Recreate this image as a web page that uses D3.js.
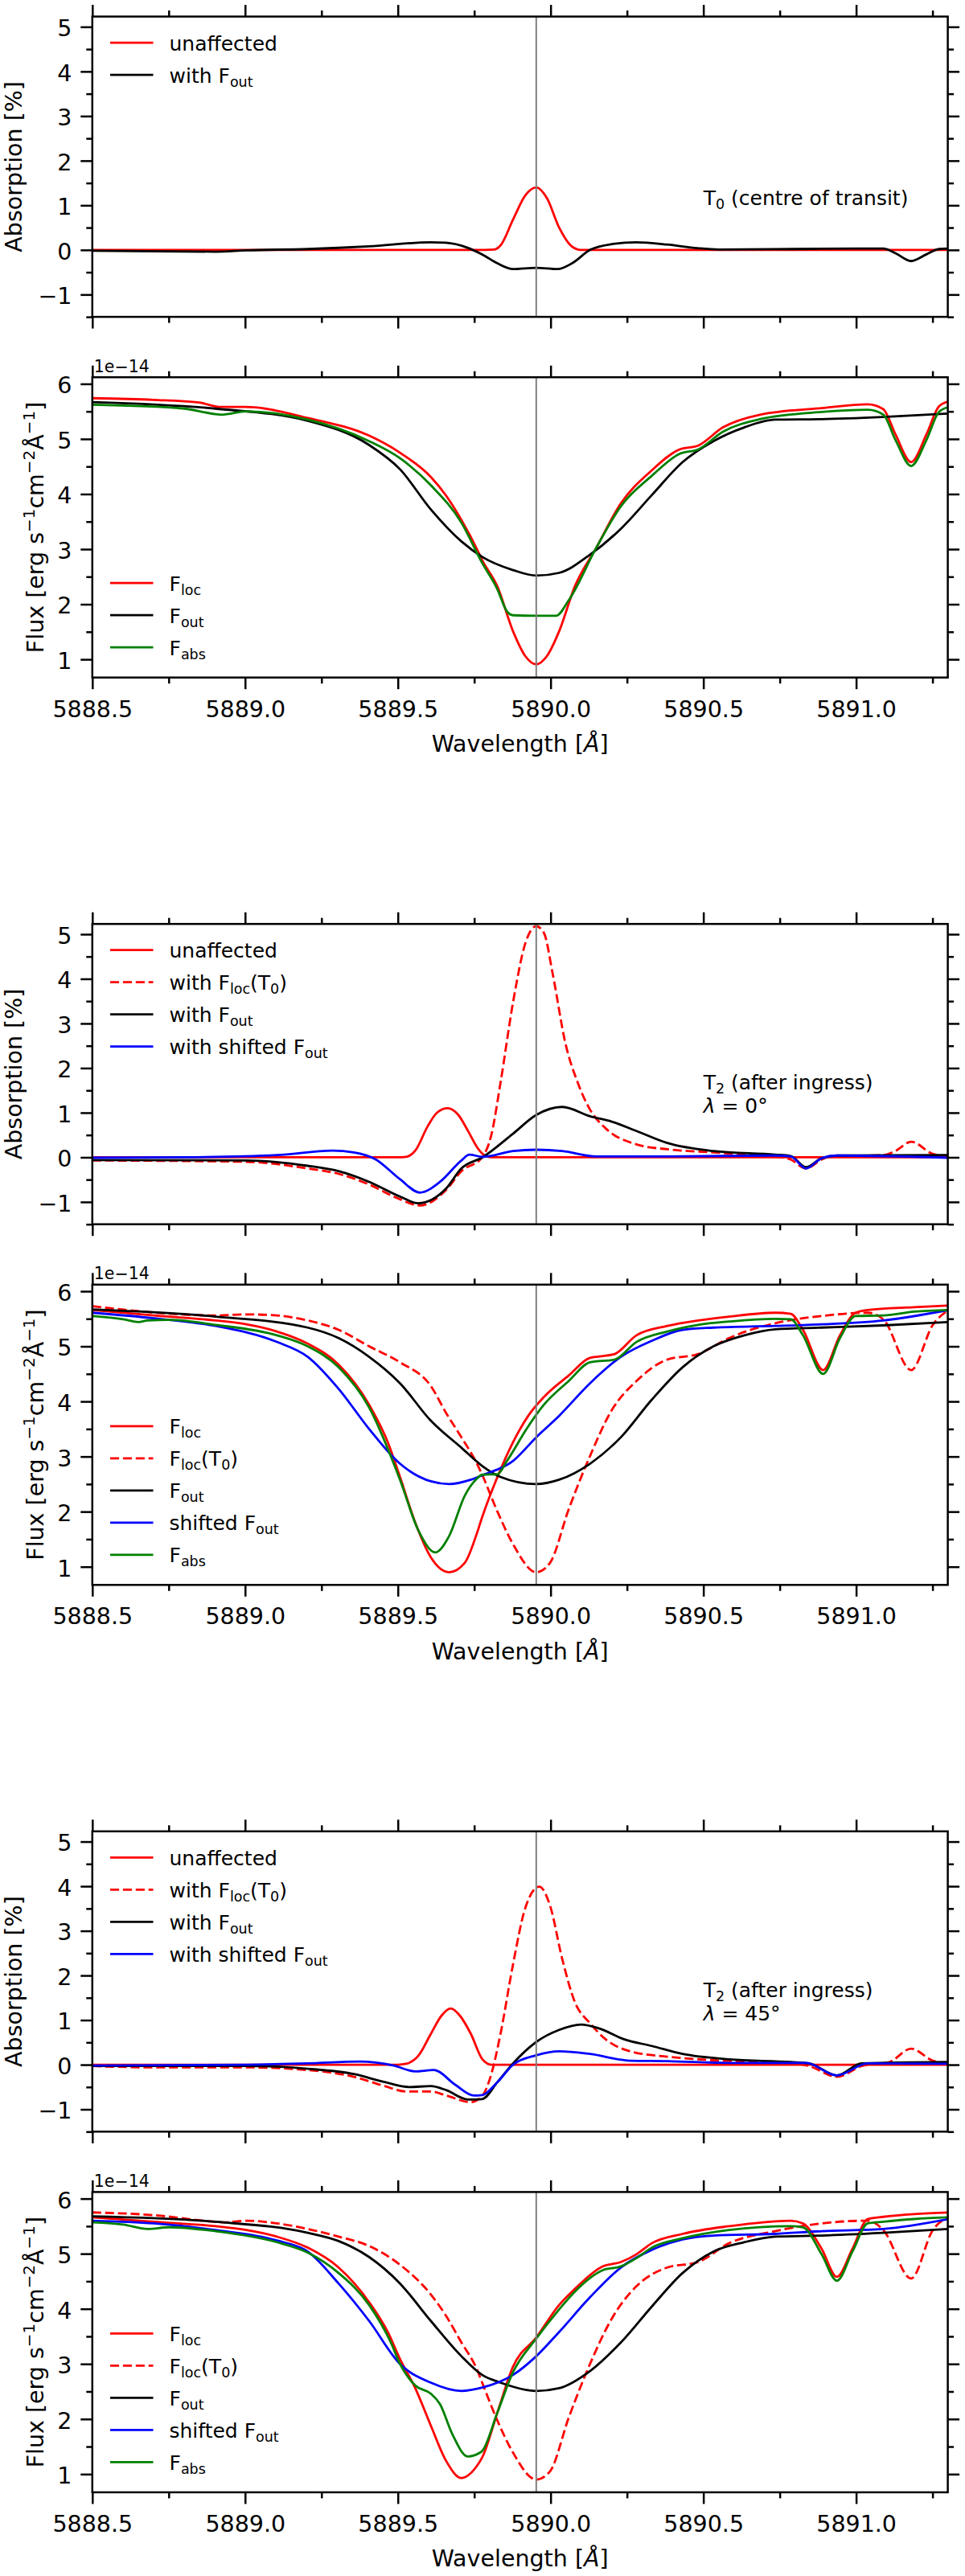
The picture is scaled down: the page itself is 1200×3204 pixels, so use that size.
<!DOCTYPE html>
<html lang="en">
<head>
  <meta charset="utf-8" />
  <title>Na D2 absorption at T0 and T2</title>
  <style>
    body {
      margin: 0;
      background: #ffffff;
    }
    svg {
      display: block;
      font-family: 'DejaVu Sans', sans-serif;
    }
    text {
      white-space: pre;
    }
    .frame {
      fill: none;
      stroke: #000;
      stroke-width: 2.5px;
    }
    .curve {
      fill: none;
      stroke-width: 2.8px;
      stroke-linejoin: round;
    }
    .marker-line {
      stroke: #808080;
      stroke-width: 2px;
    }
  </style>
</head>
<body>
<svg id="chart" width="1200" height="3204"></svg>

<script src="https://d3js.org/d3.v7.min.js"></script>
<script>
// -----------------------------------------------------
// 1) Data: [wavelength (A), value]
// -----------------------------------------------------
const NA_D2 = 5889.953;

const waveMajor = [5888.5, 5889.0, 5889.5, 5890.0, 5890.5, 5891.0];
const waveMinor = [5888.75, 5889.25, 5889.75, 5890.25, 5890.75, 5891.25];
const absMajor  = [-1, 0, 1, 2, 3, 4, 5];
const absMinor  = [-1.5, -0.5, 0.5, 1.5, 2.5, 3.5, 4.5];
const fluxMajor = [1, 2, 3, 4, 5, 6];
const fluxMinor = [1.5, 2.5, 3.5, 4.5, 5.5];

// --- T0, absorption ---
const absT0Unaffected = [[5888.5,0],[5889.75,0],[5889.816,0.01],[5889.836,0.1],[5889.877,0.68],[5889.917,1.22],
  [5889.953,1.40],[5889.988,1.16],[5890.028,0.5],[5890.069,0.08],[5890.099,0],[5891.3,0]];
const absT0Fout = [[5888.5,-0.02],[5888.903,-0.04],[5889.004,-0.01],[5889.205,0.02],[5889.406,0.08],[5889.607,0.17],
  [5889.657,0.16],[5889.728,0.05],[5889.776,-0.1],[5889.826,-0.3],[5889.877,-0.43],[5889.953,-0.40],[5890.023,-0.43],
  [5890.07,-0.3],[5890.129,0],[5890.2,0.13],[5890.281,0.17],[5890.382,0.12],[5890.48,0.04],[5890.55,0.01],
  [5890.786,0.02],[5891.0,0.03],[5891.089,0.03],[5891.13,-0.08],[5891.18,-0.25],[5891.23,-0.1],[5891.271,0.02],[5891.303,0.03]];

// --- T0, flux (1e-14) ---
const fluxT0Loc = [[5888.5,5.74],[5888.7,5.71],[5888.85,5.66],[5888.92,5.58],[5889.0,5.58],[5889.205,5.38],[5889.406,5.06],
  [5889.507,4.75],[5889.608,4.31],[5889.658,3.97],[5889.708,3.53],[5889.759,3.0],[5889.776,2.8],[5889.826,2.32],
  [5889.877,1.51],[5889.917,1.06],[5889.953,0.91],[5889.988,1.06],[5890.028,1.51],[5890.079,2.32],[5890.149,3.02],
  [5890.23,3.83],[5890.331,4.43],[5890.422,4.81],[5890.483,4.88],[5890.564,5.21],[5890.685,5.44],[5890.887,5.56],
  [5891.038,5.63],[5891.089,5.54],[5891.129,5.08],[5891.18,4.58],[5891.23,5.08],[5891.271,5.59],[5891.303,5.68]];
const fluxT0Out = [[5888.5,5.67],[5888.903,5.55],[5889.205,5.33],[5889.406,4.89],[5889.507,4.45],[5889.608,3.72],
  [5889.708,3.14],[5889.776,2.86],[5889.877,2.62],[5889.953,2.52],[5890.028,2.57],[5890.129,2.90],[5890.23,3.37],
  [5890.331,3.98],[5890.432,4.58],[5890.533,4.96],[5890.634,5.21],[5890.735,5.35],[5890.887,5.36],[5891.089,5.40],[5891.303,5.46]];
const fluxT0Abs = [[5888.5,5.62],[5888.802,5.55],[5888.903,5.45],[5888.923,5.44],[5889.004,5.5],[5889.205,5.35],
  [5889.406,4.96],[5889.507,4.65],[5889.608,4.16],[5889.708,3.48],[5889.776,2.75],[5889.826,2.27],[5889.857,1.87],
  [5889.877,1.80],[5889.953,1.79],[5890.018,1.79],[5890.059,2.07],[5890.149,3.02],[5890.23,3.78],[5890.331,4.33],
  [5890.422,4.73],[5890.483,4.81],[5890.564,5.13],[5890.685,5.36],[5890.887,5.49],[5891.038,5.53],[5891.089,5.44],
  [5891.129,4.98],[5891.18,4.51],[5891.23,4.98],[5891.271,5.49],[5891.303,5.58]];

// --- T2, lambda = 0 deg, absorption ---
const absL0Unaffected = [[5888.5,0],[5889.5,0],[5889.527,0.01],[5889.557,0.15],[5889.598,0.7],[5889.628,1.0],
  [5889.663,1.10],[5889.698,0.95],[5889.729,0.6],[5889.759,0.23],[5889.777,0.08],[5889.806,0],[5891.3,0]];
const absL0FlocT0 = [[5888.5,-0.07],[5889.004,-0.1],[5889.205,-0.25],[5889.306,-0.37],[5889.406,-0.61],[5889.507,-0.94],
  [5889.572,-1.08],[5889.658,-0.73],[5889.708,-0.31],[5889.776,0.0],[5889.806,0.5],[5889.836,1.67],[5889.877,3.47],
  [5889.917,4.79],[5889.953,5.18],[5889.978,5.03],[5890.008,4.07],[5890.048,2.57],[5890.089,1.67],[5890.129,1.07],
  [5890.18,0.65],[5890.281,0.29],[5890.382,0.18],[5890.533,0.11],[5890.634,0.06],[5890.735,0.02],[5890.786,-0.05],
  [5890.836,-0.25],[5890.887,-0.05],[5890.917,0.02],[5891.089,0.05],[5891.13,0.15],[5891.18,0.35],[5891.25,0.08],[5891.303,0.02]];
const absL0Fout = [[5888.5,-0.06],[5889.004,-0.07],[5889.205,-0.19],[5889.306,-0.31],[5889.406,-0.55],[5889.507,-0.88],
  [5889.567,-1.03],[5889.658,-0.70],[5889.708,-0.25],[5889.777,0],[5889.877,0.53],[5889.953,0.95],[5890.038,1.13],
  [5890.129,0.92],[5890.2,0.80],[5890.281,0.59],[5890.382,0.32],[5890.533,0.14],[5890.735,0.06],[5890.786,0.03],
  [5890.836,-0.22],[5890.887,-0.02],[5890.937,0.04],[5891.303,0.05]];
const absL0Shifted = [[5888.5,-0.01],[5888.8,0],[5889.104,0.05],[5889.286,0.15],[5889.356,0.11],[5889.426,-0.04],
  [5889.507,-0.49],[5889.572,-0.79],[5889.638,-0.55],[5889.708,-0.07],[5889.734,0.06],[5889.777,0.01],[5889.877,0.14],
  [5889.953,0.17],[5890.038,0.14],[5890.149,0.02],[5890.382,0.02],[5890.735,0.04],[5890.786,0.02],[5890.836,-0.25],
  [5890.887,-0.02],[5890.937,0.04],[5891.303,-0.01]];

// --- T2, lambda = 0 deg, flux ---
const fluxL0Loc = [[5888.5,5.66],[5888.701,5.56],[5888.903,5.47],[5889.004,5.40],[5889.104,5.27],[5889.205,5.05],
  [5889.306,4.67],[5889.406,3.94],[5889.467,3.26],[5889.507,2.63],[5889.557,1.80],[5889.608,1.17],[5889.668,0.90],
  [5889.719,1.07],[5889.759,1.61],[5889.776,1.9],[5889.826,2.63],[5889.877,3.26],[5889.927,3.74],[5889.978,4.08],
  [5890.059,4.47],[5890.129,4.79],[5890.18,4.83],[5890.21,4.86],[5890.281,5.2],[5890.382,5.37],[5890.483,5.47],
  [5890.584,5.54],[5890.735,5.61],[5890.786,5.59],[5890.826,5.30],[5890.892,4.57],[5890.947,5.2],[5890.998,5.61],
  [5891.038,5.66],[5891.19,5.71],[5891.303,5.74]];
const fluxL0LocT0 = [[5888.5,5.73],[5888.903,5.56],[5889.004,5.58],[5889.104,5.56],[5889.205,5.47],[5889.306,5.3],
  [5889.406,5.0],[5889.507,4.71],[5889.608,4.28],[5889.658,3.79],[5889.708,3.35],[5889.759,2.87],[5889.776,2.67],
  [5889.826,2.0],[5889.877,1.41],[5889.953,0.90],[5889.998,1.07],[5890.059,2.04],[5890.129,3.01],[5890.2,3.84],
  [5890.281,4.37],[5890.382,4.76],[5890.483,4.86],[5890.584,5.15],[5890.735,5.42],[5890.887,5.55],[5891.038,5.61],
  [5891.089,5.49],[5891.18,4.57],[5891.251,5.39],[5891.303,5.66]];
const fluxL0Out = [[5888.5,5.67],[5888.903,5.54],[5889.205,5.34],[5889.306,5.15],[5889.406,4.81],[5889.507,4.33],
  [5889.608,3.65],[5889.708,3.16],[5889.776,2.83],[5889.836,2.63],[5889.953,2.50],[5890.028,2.58],[5890.129,2.87],
  [5890.23,3.35],[5890.331,4.03],[5890.432,4.62],[5890.533,5.0],[5890.634,5.2],[5890.735,5.31],[5890.887,5.34],
  [5891.089,5.38],[5891.303,5.44]];
const fluxL0Shifted = [[5888.5,5.61],[5888.701,5.51],[5888.903,5.37],[5889.104,5.08],[5889.205,4.81],[5889.306,4.23],
  [5889.406,3.50],[5889.507,2.87],[5889.608,2.55],[5889.668,2.50],[5889.739,2.58],[5889.776,2.66],[5889.877,2.92],
  [5889.953,3.35],[5890.028,3.74],[5890.129,4.33],[5890.23,4.81],[5890.331,5.10],[5890.432,5.30],[5890.533,5.34],
  [5890.735,5.37],[5890.887,5.40],[5891.089,5.47],[5891.303,5.66]];
const fluxL0Abs = [[5888.5,5.55],[5888.601,5.49],[5888.651,5.44],[5888.681,5.47],[5888.752,5.48],[5888.903,5.39],
  [5889.104,5.2],[5889.205,5.0],[5889.306,4.62],[5889.406,3.89],[5889.507,2.58],[5889.567,1.66],[5889.623,1.26],
  [5889.668,1.56],[5889.719,2.29],[5889.759,2.6],[5889.776,2.67],[5889.826,2.68],[5889.857,2.92],[5889.927,3.55],
  [5889.978,3.94],[5890.059,4.37],[5890.129,4.71],[5890.21,4.76],[5890.281,5.08],[5890.382,5.27],[5890.483,5.39],
  [5890.584,5.45],[5890.735,5.5],[5890.786,5.49],[5890.826,5.2],[5890.892,4.50],[5890.947,5.15],[5890.998,5.55],
  [5891.089,5.56],[5891.19,5.63],[5891.303,5.66]];

// --- T2, lambda = 45 deg, absorption ---
const absL45Unaffected = [[5888.5,0],[5889.5,0],[5889.527,0.02],[5889.567,0.2],[5889.608,0.69],[5889.643,1.1],
  [5889.673,1.26],[5889.703,1.1],[5889.739,0.69],[5889.777,0.12],[5889.806,0],[5891.3,0]];
const absL45FlocT0 = [[5888.5,-0.03],[5888.701,-0.06],[5889.004,-0.06],[5889.205,-0.12],[5889.356,-0.27],[5889.457,-0.48],
  [5889.527,-0.60],[5889.608,-0.60],[5889.658,-0.69],[5889.739,-0.84],[5889.776,-0.7],[5889.806,-0.21],[5889.836,0.69],
  [5889.877,2.25],[5889.917,3.51],[5889.963,3.99],[5889.998,3.57],[5890.038,2.37],[5890.079,1.41],[5890.129,0.93],
  [5890.18,0.57],[5890.261,0.30],[5890.382,0.18],[5890.533,0.10],[5890.786,0.04],[5890.846,-0.03],[5890.937,-0.27],
  [5891.018,-0.03],[5891.109,0.06],[5891.18,0.36],[5891.251,0.09],[5891.303,0.03]];
const absL45Fout = [[5888.5,-0.03],[5889.004,-0.03],[5889.205,-0.09],[5889.356,-0.21],[5889.457,-0.39],[5889.537,-0.50],
  [5889.608,-0.48],[5889.658,-0.57],[5889.729,-0.78],[5889.776,-0.77],[5889.826,-0.39],[5889.877,0.03],[5889.953,0.51],
  [5890.028,0.78],[5890.099,0.90],[5890.16,0.81],[5890.24,0.57],[5890.331,0.42],[5890.432,0.24],[5890.584,0.12],
  [5890.786,0.06],[5890.846,0.03],[5890.937,-0.24],[5891.018,0.03],[5891.303,0.06]];
const absL45Shifted = [[5888.5,-0.02],[5889.004,0],[5889.205,0.03],[5889.376,0.07],[5889.487,-0.02],[5889.557,-0.15],
  [5889.618,-0.12],[5889.688,-0.45],[5889.749,-0.69],[5889.776,-0.68],[5889.826,-0.39],[5889.877,0],[5889.953,0.21],
  [5890.028,0.30],[5890.129,0.24],[5890.261,0.09],[5890.382,0.08],[5890.584,0.04],[5890.836,0.04],[5890.937,-0.24],
  [5891.038,0.03],[5891.303,0.02]];

// --- T2, lambda = 45 deg, flux ---
const fluxL45Loc = [[5888.5,5.66],[5888.701,5.58],[5888.903,5.50],[5889.004,5.43],[5889.104,5.31],[5889.205,5.11],
  [5889.306,4.75],[5889.406,4.12],[5889.467,3.58],[5889.507,3.09],[5889.557,2.56],[5889.608,1.88],[5889.658,1.24],
  [5889.708,0.93],[5889.759,1.15],[5889.776,1.3],[5889.826,2.12],[5889.877,2.95],[5889.953,3.48],[5890.028,4.07],
  [5890.079,4.36],[5890.17,4.77],[5890.23,4.85],[5890.281,4.99],[5890.331,5.19],[5890.432,5.36],[5890.584,5.50],
  [5890.786,5.60],[5890.826,5.55],[5890.887,5.09],[5890.937,4.58],[5890.988,5.09],[5891.038,5.63],[5891.089,5.67],
  [5891.19,5.72],[5891.303,5.75]];
const fluxL45LocT0 = [[5888.5,5.75],[5888.701,5.70],[5888.903,5.58],[5888.933,5.57],[5889.004,5.60],[5889.104,5.55],
  [5889.205,5.45],[5889.306,5.31],[5889.406,5.14],[5889.507,4.80],[5889.608,4.26],[5889.658,3.87],[5889.708,3.39],
  [5889.759,2.90],[5889.776,2.66],[5889.826,1.97],[5889.877,1.39],[5889.953,0.90],[5889.998,1.05],[5890.059,2.02],
  [5890.129,3.0],[5890.2,3.82],[5890.281,4.41],[5890.382,4.75],[5890.483,4.85],[5890.584,5.19],[5890.735,5.41],
  [5890.887,5.55],[5891.038,5.60],[5891.089,5.43],[5891.18,4.55],[5891.251,5.43],[5891.303,5.67]];
const fluxL45Out = [[5888.5,5.68],[5888.903,5.58],[5889.205,5.38],[5889.306,5.23],[5889.406,4.94],[5889.507,4.46],
  [5889.608,3.78],[5889.708,3.14],[5889.776,2.80],[5889.836,2.66],[5889.953,2.51],[5890.028,2.56],[5890.129,2.87],
  [5890.23,3.39],[5890.331,4.04],[5890.432,4.65],[5890.533,5.04],[5890.634,5.21],[5890.735,5.31],[5890.887,5.33],
  [5891.089,5.38],[5891.303,5.45]];
const fluxL45Shifted = [[5888.5,5.60],[5888.701,5.55],[5888.903,5.43],[5889.104,5.24],[5889.205,5.04],[5889.306,4.46],
  [5889.406,3.78],[5889.507,3.0],[5889.608,2.66],[5889.708,2.51],[5889.776,2.57],[5889.877,2.80],[5889.953,3.14],
  [5890.028,3.58],[5890.129,4.21],[5890.23,4.75],[5890.331,5.07],[5890.432,5.26],[5890.533,5.33],[5890.735,5.36],
  [5890.887,5.41],[5891.089,5.45],[5891.303,5.63]];
const fluxL45Abs = [[5888.5,5.57],[5888.601,5.53],[5888.681,5.45],[5888.752,5.48],[5888.903,5.41],[5889.104,5.21],
  [5889.205,5.02],[5889.306,4.65],[5889.406,4.07],[5889.477,3.39],[5889.507,3.0],[5889.557,2.61],[5889.608,2.46],
  [5889.638,2.27],[5889.678,1.73],[5889.729,1.32],[5889.769,1.39],[5889.776,1.42],[5889.826,2.12],[5889.877,2.85],
  [5889.953,3.46],[5890.028,3.99],[5890.079,4.31],[5890.17,4.70],[5890.23,4.77],[5890.281,4.92],[5890.331,5.11],
  [5890.432,5.28],[5890.584,5.43],[5890.786,5.50],[5890.826,5.48],[5890.887,4.99],[5890.937,4.51],[5890.988,5.04],
  [5891.038,5.55],[5891.089,5.58],[5891.19,5.63],[5891.303,5.66]];

// -----------------------------------------------------
// 2) Layout constants
// -----------------------------------------------------
const FONT = "'DejaVu Sans', sans-serif";
const TICK_FS = 28.5, LEGEND_FS = 25, OFFSET_FS = 20.5;
const X_LEFT = 114.8, X_RIGHT = 1178.6;
const PANEL_H = 373.5;
const GROUP_STEP = 1128.6;
const ABS_TOP = 20.6, FLUX_TOP = 469.2;

const RED = "#ff0000", BLACK = "#000000", BLUE = "#0000ff", GREEN = "#008000";
const DASH = "11.1,4.8";

const svg = d3.select("#chart");
svg.append("rect").attr("width", 1200).attr("height", 3204).attr("fill", "#fff");

const x = d3.scaleLinear().domain([5888.5, 5891.3]).range([X_LEFT, X_RIGHT]);

// -----------------------------------------------------
// 3) Helpers
// -----------------------------------------------------

// Text with _{sub}, ^{sup} and *{italic} markup
function rich(sel, str, size) {
  const re = /([_^*])\{([^}]*)\}/g;
  let last = 0, m, shift = 0;
  const add = (t, kind) => {
    const target = kind === "_" ? 0.2 * size : kind === "^" ? -0.36 * size : 0;
    const sp = sel.append("tspan").text(t);
    if (target - shift !== 0) sp.attr("dy", target - shift);
    shift = target;
    if (kind === "_" || kind === "^") sp.attr("font-size", size * 0.7);
    if (kind === "*") sp.attr("font-style", "italic");
  };
  while ((m = re.exec(str))) {
    if (m.index > last) add(str.slice(last, m.index), "");
    add(m[2], m[1]);
    last = re.lastIndex;
  }
  if (last < str.length) add(str.slice(last), "");
}

function styleAxis(g, size) {
  g.select(".domain").remove();
  g.selectAll("line").attr("stroke", "#000").attr("stroke-width", 2.5);
  g.selectAll("text").attr("font-size", size).attr("font-family", FONT).attr("fill", "#000");
}

let clipId = 0;

function drawPanel(cfg) {
  const top = cfg.top, bottom = top + PANEL_H;
  const y = d3.scaleLinear().domain(cfg.yDomain).range([bottom, top]);
  const g = svg.append("g");

  // axes: major + minor ticks on all four sides
  const noLabel = () => "";
  const addAxis = (axis, tx, ty) => g.append("g").attr("transform", `translate(${tx},${ty})`).call(axis);

  const left = addAxis(d3.axisLeft(y).tickValues(cfg.yMajor).tickSize(14.5).tickPadding(10.8)
    .tickFormat(d3.format("d")), X_LEFT, 0);
  styleAxis(left, TICK_FS);
  left.selectAll("text").attr("dy", "0.4em");
  styleAxis(addAxis(d3.axisLeft(y).tickValues(cfg.yMinor).tickSize(7.5).tickFormat(noLabel), X_LEFT, 0), TICK_FS);
  styleAxis(addAxis(d3.axisRight(y).tickValues(cfg.yMajor).tickSize(14.5).tickFormat(noLabel), X_RIGHT, 0), TICK_FS);
  styleAxis(addAxis(d3.axisRight(y).tickValues(cfg.yMinor).tickSize(7.5).tickFormat(noLabel), X_RIGHT, 0), TICK_FS);
  styleAxis(addAxis(d3.axisTop(x).tickValues(waveMajor).tickSize(14.5).tickFormat(noLabel), 0, top), TICK_FS);
  styleAxis(addAxis(d3.axisTop(x).tickValues(waveMinor).tickSize(7.5).tickFormat(noLabel), 0, top), TICK_FS);
  styleAxis(addAxis(d3.axisBottom(x).tickValues(waveMajor).tickSize(14.5).tickPadding(14.3)
    .tickFormat(cfg.xLabels ? d3.format(".1f") : noLabel), 0, bottom), TICK_FS);
  styleAxis(addAxis(d3.axisBottom(x).tickValues(waveMinor).tickSize(7.5).tickFormat(noLabel), 0, bottom), TICK_FS);

  // curves, clipped to the frame
  const id = "clip" + (clipId++);
  svg.append("clipPath").attr("id", id).append("rect")
    .attr("x", X_LEFT).attr("y", top).attr("width", X_RIGHT - X_LEFT).attr("height", PANEL_H);
  const plot = g.append("g").attr("clip-path", `url(#${id})`);
  const line = d3.line().x(d => x(d[0])).y(d => y(d[1])).curve(d3.curveMonotoneX);

  cfg.series.forEach(s => {
    plot.append("path")
      .attr("class", "curve")
      .attr("d", line(s.data))
      .attr("stroke", s.color)
      .attr("stroke-dasharray", s.dash ? DASH : null);
  });

  plot.append("line").attr("class", "marker-line")
    .attr("x1", x(NA_D2)).attr("x2", x(NA_D2)).attr("y1", top).attr("y2", bottom);

  g.append("rect").attr("class", "frame")
    .attr("x", X_LEFT).attr("y", top).attr("width", X_RIGHT - X_LEFT).attr("height", PANEL_H);

  // legend
  const n = cfg.series.length;
  cfg.series.forEach((s, i) => {
    const ly = cfg.legendAtBottom ? bottom - 37.5 - (n - 1 - i) * 40 : top + 32.5 + i * 40;
    g.append("line")
      .attr("x1", 137).attr("x2", 190.5).attr("y1", ly).attr("y2", ly)
      .attr("stroke", s.color).attr("stroke-width", 2.8)
      .attr("stroke-dasharray", s.dash ? DASH : null);
    const t = g.append("text").attr("x", 210.5).attr("y", ly + 9.5)
      .attr("font-size", LEGEND_FS).attr("font-family", FONT);
    rich(t, s.label, LEGEND_FS);
  });

  // annotation
  if (cfg.note) {
    cfg.note.forEach((str, i) => {
      const t = g.append("text")
        .attr("x", x(5890.5))
        .attr("y", y(1.0) - (cfg.note.length - 1 - i) * 28.5)
        .attr("font-size", LEGEND_FS).attr("font-family", FONT);
      rich(t, str, LEGEND_FS);
    });
  }

  // y label
  const cy = (top + bottom) / 2;
  const yl = g.append("text")
    .attr("transform", `translate(${cfg.yLabelX},${cy}) rotate(-90)`)
    .attr("text-anchor", "middle")
    .attr("font-size", TICK_FS).attr("font-family", FONT);
  rich(yl, cfg.yLabel, TICK_FS);

  // offset text and x label on the flux panels
  if (cfg.xLabels) {
    g.append("text").attr("x", X_LEFT + 2).attr("y", top - 6.5)
      .attr("font-size", OFFSET_FS).attr("font-family", FONT).text("1e\u221214");
    const xl = g.append("text")
      .attr("x", (X_LEFT + X_RIGHT) / 2).attr("y", bottom + 92.5)
      .attr("text-anchor", "middle")
      .attr("font-size", TICK_FS).attr("font-family", FONT);
    rich(xl, "Wavelength [*{Å}]", TICK_FS);
  }
}

// -----------------------------------------------------
// 4) The six panels
// -----------------------------------------------------
const ABS_LABEL = "Absorption [%]";
const FLUX_LABEL = "Flux [erg s^{\u22121}cm^{\u22122}Å^{\u22121}]";

const groups = [
  {
    note: ["T_{0} (centre of transit)"],
    abs: [
      { label: "unaffected", color: RED, data: absT0Unaffected },
      { label: "with F_{out}", color: BLACK, data: absT0Fout }
    ],
    flux: [
      { label: "F_{loc}", color: RED, data: fluxT0Loc },
      { label: "F_{out}", color: BLACK, data: fluxT0Out },
      { label: "F_{abs}", color: GREEN, data: fluxT0Abs }
    ]
  },
  {
    note: ["T_{2} (after ingress)", "*{λ} = 0°"],
    abs: [
      { label: "unaffected", color: RED, data: absL0Unaffected },
      { label: "with F_{loc}(T_{0})", color: RED, dash: true, data: absL0FlocT0 },
      { label: "with F_{out}", color: BLACK, data: absL0Fout },
      { label: "with shifted F_{out}", color: BLUE, data: absL0Shifted }
    ],
    flux: [
      { label: "F_{loc}", color: RED, data: fluxL0Loc },
      { label: "F_{loc}(T_{0})", color: RED, dash: true, data: fluxL0LocT0 },
      { label: "F_{out}", color: BLACK, data: fluxL0Out },
      { label: "shifted F_{out}", color: BLUE, data: fluxL0Shifted },
      { label: "F_{abs}", color: GREEN, data: fluxL0Abs }
    ]
  },
  {
    note: ["T_{2} (after ingress)", "*{λ} = 45°"],
    abs: [
      { label: "unaffected", color: RED, data: absL45Unaffected },
      { label: "with F_{loc}(T_{0})", color: RED, dash: true, data: absL45FlocT0 },
      { label: "with F_{out}", color: BLACK, data: absL45Fout },
      { label: "with shifted F_{out}", color: BLUE, data: absL45Shifted }
    ],
    flux: [
      { label: "F_{loc}", color: RED, data: fluxL45Loc },
      { label: "F_{loc}(T_{0})", color: RED, dash: true, data: fluxL45LocT0 },
      { label: "F_{out}", color: BLACK, data: fluxL45Out },
      { label: "shifted F_{out}", color: BLUE, data: fluxL45Shifted },
      { label: "F_{abs}", color: GREEN, data: fluxL45Abs }
    ]
  }
];

groups.forEach((grp, k) => {
  const off = k * GROUP_STEP;
  drawPanel({
    top: off + ABS_TOP, yDomain: [-1.5, 5.23], yMajor: absMajor, yMinor: absMinor,
    series: grp.abs, legendAtBottom: false, xLabels: false, note: grp.note,
    yLabel: ABS_LABEL, yLabelX: 27
  });
  drawPanel({
    top: off + FLUX_TOP, yDomain: [0.67, 6.12], yMajor: fluxMajor, yMinor: fluxMinor,
    series: grp.flux, legendAtBottom: true, xLabels: true, note: null,
    yLabel: FLUX_LABEL, yLabelX: 53.5
  });
});
</script>
</body>
</html>
